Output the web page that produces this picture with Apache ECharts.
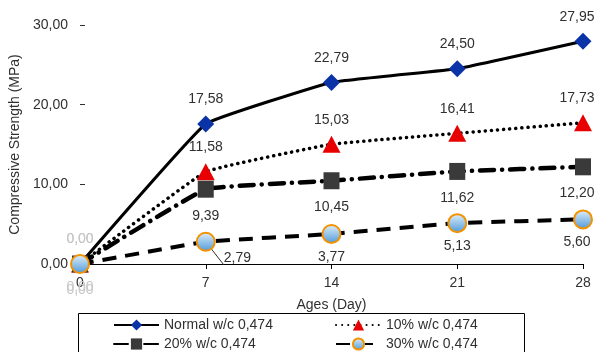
<!DOCTYPE html>
<html><head><meta charset="utf-8">
<script src="https://cdn.jsdelivr.net/npm/echarts@6/dist/echarts.min.js"></script>
<style>html,body{margin:0;padding:0;background:#fff}#c{width:596px;height:352px}</style>
</head><body><div id="c"></div>
<script>
const ages = [0, 7, 14, 21, 28];
const seriesNames = ['Normal w/c 0,474', '10% w/c 0,474', '20% w/c 0,474', '30% w/c 0,474'];
const normalVals = [0, 17.58, 22.79, 24.50, 27.95];
const pct10Vals = [0, 11.58, 15.03, 16.41, 17.73];
const pct20Vals = [0, 9.39, 10.45, 11.62, 12.20];
const pct30Vals = [0, 2.79, 3.77, 5.13, 5.60];
const yTicks = [0, 10, 20, 30];

const FONT = 'Liberation Sans';
const FS = 14;
const fmt = v => v.toFixed(2).replace('.', ',');
function pts(vals, extra) {
  return vals.map((v, i) => {
    const d = { value: [ages[i], v] };
    if (i === 0) d.label = { color: '#c8c8c8' };
    if (i === vals.length - 1) d.label = { offset: [-6, 0] };
    if (extra && extra[i]) Object.assign(d, extra[i]);
    return d;
  });
}
const labelBase = { show: true, fontFamily: FONT, fontSize: FS, color: '#303030', formatter: p => fmt(p.value[1]) };
const legendText = { fontFamily: FONT, fontSize: FS, color: '#303030' };

const chart = echarts.init(document.getElementById('c'));
chart.setOption({
  animation: false,
  grid: { left: 80, right: 13, top: 25, bottom: 88 },
  xAxis: {
    type: 'value', min: 0, max: 28, interval: 7,
    name: 'Ages (Day)', nameLocation: 'middle', nameGap: 34,
    nameTextStyle: { fontFamily: FONT, fontSize: FS, color: '#303030' },
    axisLine: { lineStyle: { color: '#000', width: 1 } },
    axisTick: { show: true, length: 5, lineStyle: { color: '#000' } },
    axisLabel: { fontFamily: FONT, fontSize: FS, color: '#303030', margin: 12, formatter: v => String(v) },
    splitLine: { show: false }
  },
  yAxis: {
    type: 'value', min: yTicks[0], max: yTicks[yTicks.length - 1], interval: 10,
    name: 'Compressive Strength (MPa)', nameLocation: 'middle', nameGap: 55,
    nameTextStyle: { fontFamily: FONT, fontSize: FS, color: '#303030' },
    axisLine: { show: false },
    axisTick: { show: true, inside: true, length: 5, lineStyle: { color: '#303030' } },
    axisLabel: { fontFamily: FONT, fontSize: FS, color: '#303030', margin: 12, formatter: v => fmt(v) },
    splitLine: { show: false }
  },
  legend: [
    { data: [seriesNames[0], seriesNames[2]], orient: 'vertical', left: 113, top: 318, height: 60, itemGap: 5, itemWidth: 45, itemHeight: 14, padding: 0,
      textStyle: legendText },
    { data: [seriesNames[1], seriesNames[3]], orient: 'vertical', left: 335, top: 318, height: 60, itemGap: 5, itemWidth: 45, itemHeight: 14, padding: 0,
      textStyle: legendText }
  ],
  graphic: [{ type: 'rect', shape: { x: 78.5, y: 313.5, width: 446, height: 60 }, style: { fill: 'none', stroke: '#000', lineWidth: 1 }, silent: true }],
  series: [
    { name: seriesNames[0], type: 'line', data: pts(normalVals), smooth: 0.08,
      symbol: 'diamond', symbolSize: 17, itemStyle: { color: '#0a33a8' },
      lineStyle: { color: '#000', width: 3 },
      label: Object.assign({}, labelBase, { position: 'top', distance: 9 }) },
    { name: seriesNames[1], type: 'line', data: pts(pct10Vals), smooth: 0.08,
      symbol: 'triangle', symbolSize: [18, 17], itemStyle: { color: '#e80000' },
      lineStyle: { color: '#000', width: 3.5, type: [0.1, 6], cap: 'round' },
      label: Object.assign({}, labelBase, { position: 'top', distance: 9 }) },
    { name: seriesNames[2], type: 'line', data: pts(pct20Vals), smooth: 0.08,
      symbol: 'rect', symbolSize: [16, 17], itemStyle: { color: '#3a3a3a' },
      lineStyle: { color: '#000', width: 4.5, type: [14, 8, 0.1, 8], cap: 'round' },
      label: Object.assign({}, labelBase, { position: 'bottom', distance: 11 }) },
    { name: seriesNames[3], type: 'line', smooth: 0.08,
      data: pts(pct30Vals, { 1: { label: { position: 'right', offset: [2, 16] }, labelLine: { show: true, lineStyle: { color: '#303030', width: 1 } } } }),
      symbol: 'circle', symbolSize: 18,
      itemStyle: { color: new echarts.graphic.LinearGradient(0, 0, 0, 1, [{ offset: 0, color: '#e3f1fb' }, { offset: 1, color: '#4d98d8' }]), borderColor: '#f39200', borderWidth: 2 },
      lineStyle: { color: '#000', width: 4, type: [14, 9] },
      label: Object.assign({}, labelBase, { position: 'bottom', distance: 6 }) }
  ]
});
</script></body></html>
